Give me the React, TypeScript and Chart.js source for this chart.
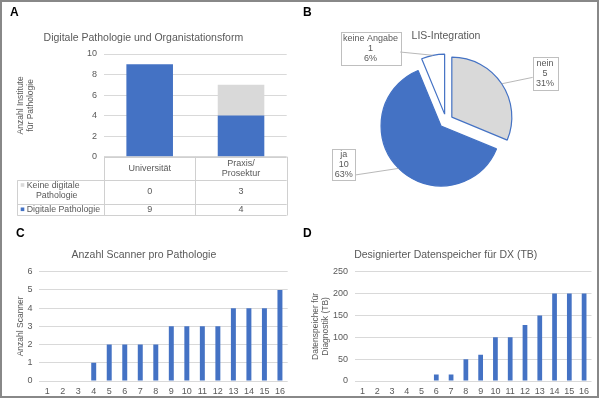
import React, { useEffect, useRef } from "react";
import { Chart, registerables } from "chart.js";

Chart.register(...registerables);

// ---------- DATA ----------
const A_TITLE = "Digitale Pathologie und Organistationsform";
const A_CATEGORIES = [["Universität"], ["Praxis/", "Prosektur"]];
const A_SERIES_DIGITAL = "Digitale Pathologie";
const A_SERIES_NONDIGITAL = "Keine digitale Pathologie";
const A_ROW_LINES_DIGITAL = ["Digitale Pathologie"];
const A_ROW_LINES_NONDIGITAL = ["Keine digitale", "Pathologie"];
const A_DIGITAL = [9, 4];
const A_NONDIGITAL = [0, 3];
const A_Y_TITLE = ["Anzahl Institute", "für Pathologie"];

const B_TITLE = "LIS-Integration";
const B_LABELS = ["nein", "ja", "keine Angabe"];
const B_VALUES = [5, 10, 1];

const C_TITLE = "Anzahl Scanner pro Pathologie";
const C_Y_TITLE = "Anzahl Scanner";
const C_LABELS = ["1", "2", "3", "4", "5", "6", "7", "8", "9", "10", "11", "12", "13", "14", "15", "16"];
const C_VALUES = [0, 0, 0, 1, 2, 2, 2, 2, 3, 3, 3, 3, 4, 4, 4, 5];

const D_TITLE = "Designierter Datenspeicher für DX (TB)";
const D_Y_TITLE = ["Datenspeicher für", "Diagnostik (TB)"];
const D_LABELS = ["1", "2", "3", "4", "5", "6", "7", "8", "9", "10", "11", "12", "13", "14", "15", "16"];
const D_VALUES = [0, 0, 0, 0, 0, 15, 15, 50, 60, 100, 100, 128, 150, 200, 200, 200];

// ---------- STYLE ----------
const FONT = "'Liberation Sans', Arial, sans-serif";
const TEXT = "#595959";
const GRID = "#D9D9D9";
const BLUE = "#4472C4";
const GREY = "#D9D9D9";
const TABLE_LINE = "#D0D0D0";

Chart.defaults.font.family = FONT;

const titleFont = { family: FONT, size: 10.5, weight: "normal" as const, lineHeight: 1.2 };
const tickFont = { family: FONT, size: 9, lineHeight: 1.2 };
const axisTitleFont = { family: FONT, size: 8.5, weight: "normal" as const, lineHeight: 1.2 };

const crisp = (v: number) => Math.round(v) + 0.5;

// ---------- PLUGINS ----------
const tablePlugin = {
  id: "dataTable",
  afterDraw(chart: any) {
    const { ctx, chartArea: ca, scales } = chart;
    const x = scales.x;
    const n = A_CATEGORIES.length;
    const colW = (ca.right - ca.left) / n;
    const yTop = ca.bottom;
    const yH = yTop + 23.3;
    const yR1 = yTop + 47.3;
    const yR2 = yTop + 58.3;
    const labelLeft = 17.3;
    ctx.save();
    ctx.strokeStyle = TABLE_LINE;
    ctx.lineWidth = 1;
    const line = (x1: number, y1: number, x2: number, y2: number) => {
      ctx.beginPath();
      ctx.moveTo(x1, y1);
      ctx.lineTo(x2, y2);
      ctx.stroke();
    };
    line(ca.left, crisp(yTop), ca.right, crisp(yTop));
    [yH, yR1, yR2].forEach((yy) => line(labelLeft, crisp(yy), ca.right, crisp(yy)));
    for (let i = 0; i <= n; i++) {
      const xx = crisp(ca.left + i * colW);
      line(xx, yTop, xx, crisp(yR2));
    }
    line(crisp(labelLeft), crisp(yH), crisp(labelLeft), crisp(yR2));

    ctx.fillStyle = TEXT;
    ctx.font = `9px ${FONT}`;
    ctx.textAlign = "center";
    ctx.textBaseline = "middle";
    // header
    A_CATEGORIES.forEach((lines, i) => {
      const cx = x.getPixelForValue(i);
      const cy = (yTop + yH) / 2;
      const lh = 10;
      lines.forEach((t, j) => {
        ctx.fillText(t, cx, cy + (j - (lines.length - 1) / 2) * lh);
      });
    });
    // rows
    const rows = [
      { lines: A_ROW_LINES_NONDIGITAL, color: GREY, values: A_NONDIGITAL, top: yH, bottom: yR1 },
      { lines: A_ROW_LINES_DIGITAL, color: BLUE, values: A_DIGITAL, top: yR1, bottom: yR2 },
    ];
    rows.forEach((r) => {
      const cy = (r.top + r.bottom) / 2;
      r.values.forEach((v, i) => {
        ctx.fillStyle = TEXT;
        ctx.textAlign = "center";
        ctx.font = `9px ${FONT}`;
        ctx.fillText(String(v), x.getPixelForValue(i), cy);
      });
      ctx.font = `8.8px ${FONT}`;
      const firstY = r.lines.length > 1 ? r.top + 5.2 : cy;
      ctx.fillStyle = r.color;
      ctx.fillRect(labelLeft + 3.4, firstY - 2, 3.6, 3.6);
      ctx.fillStyle = TEXT;
      ctx.textAlign = "left";
      ctx.fillText(r.lines[0], labelLeft + 9.4, firstY);
      if (r.lines.length > 1) {
        ctx.textAlign = "center";
        ctx.fillText(r.lines[1], 56.7, r.top + 16);
      }
    });
    ctx.restore();
  },
};

const EXPLODE = 7;
const explodePlugin = {
  id: "explode",
  afterDatasetsUpdate(chart: any) {
    const meta = chart.getDatasetMeta(0);
    meta.data.forEach((el: any) => {
      const mid = (el.startAngle + el.endAngle) / 2;
      el.x += Math.cos(mid) * EXPLODE;
      el.y += Math.sin(mid) * EXPLODE;
    });
  },
};

// box positions (layout only), indexed like B_LABELS
const CALLOUT_BOXES = [
  { x: 232.7, y: 57.3, w: 24.8, h: 32.7, ax: 233, ay: 77.3 },
  { x: 32.3, y: 149, w: 22.8, h: 30.5, ax: 55, ay: 175 },
  { x: 40.7, y: 32.3, w: 59.5, h: 32.7, ax: 100, ay: 52 },
];

const calloutPlugin = {
  id: "callouts",
  afterDraw(chart: any) {
    const { ctx } = chart;
    const meta = chart.getDatasetMeta(0);
    const total = B_VALUES.reduce((a, b) => a + b, 0);
    ctx.save();
    meta.data.forEach((el: any, i: number) => {
      const b = CALLOUT_BOXES[i];
      const mid = (el.startAngle + el.endAngle) / 2;
      const ex = el.x + Math.cos(mid) * el.outerRadius;
      const ey = el.y + Math.sin(mid) * el.outerRadius;
      ctx.strokeStyle = "#A6A6A6";
      ctx.lineWidth = 0.8;
      ctx.beginPath();
      ctx.moveTo(b.ax, b.ay);
      ctx.lineTo(ex, ey);
      ctx.stroke();
      ctx.fillStyle = "#FFFFFF";
      ctx.fillRect(b.x, b.y, b.w, b.h);
      ctx.strokeStyle = "#BFBFBF";
      ctx.lineWidth = 1;
      ctx.strokeRect(crisp(b.x), crisp(b.y), Math.round(b.w), Math.round(b.h));
      const pct = Math.round((B_VALUES[i] / total) * 100) + "%";
      const lines = [B_LABELS[i], String(B_VALUES[i]), pct];
      ctx.fillStyle = TEXT;
      ctx.font = `9px ${FONT}`;
      ctx.textAlign = "center";
      ctx.textBaseline = "middle";
      const cx = b.x + b.w / 2;
      const cy = b.y + b.h / 2;
      lines.forEach((t, j) => ctx.fillText(t, cx, cy + (j - 1) * 10.2));
    });
    ctx.restore();
  },
};

// ---------- CONFIGS ----------
function configA(): any {
  return {
    type: "bar",
    data: {
      labels: A_CATEGORIES.map((c) => c.join(" ")),
      datasets: [
        { label: A_SERIES_DIGITAL, data: A_DIGITAL, backgroundColor: BLUE, barPercentage: 0.51, categoryPercentage: 1 },
        { label: A_SERIES_NONDIGITAL, data: A_NONDIGITAL, backgroundColor: GREY, barPercentage: 0.51, categoryPercentage: 1 },
      ],
    },
    options: {
      responsive: false,
      animation: false,
      devicePixelRatio: 1,
      layout: { padding: { left: 0, right: 13.3, top: 0, bottom: 63.3 } },
      plugins: {
        legend: { display: false },
        tooltip: { enabled: false },
        title: { display: true, text: A_TITLE, color: TEXT, font: titleFont, padding: { top: 31.5, bottom: 9.9 } },
      },
      scales: {
        x: {
          stacked: true,
          grid: { display: false, drawTicks: false },
          border: { display: false },
          ticks: { display: false },
          afterFit: (s: any) => { s.height = 0; },
        },
        y: {
          stacked: true,
          min: 0,
          max: 10,
          ticks: { stepSize: 2, color: TEXT, font: tickFont, padding: 7 },
          grid: { color: GRID, drawTicks: false },
          border: { display: false },
          title: { display: true, text: A_Y_TITLE, color: TEXT, font: axisTitleFont, padding: { top: 15.4, bottom: 0 } },
          afterFit: (s: any) => { s.width = 104; },
        },
      },
    },
    plugins: [tablePlugin],
  };
}

function configB(): any {
  return {
    type: "pie",
    data: {
      labels: B_LABELS,
      datasets: [
        {
          data: B_VALUES,
          backgroundColor: [GREY, BLUE, "#FFFFFF"],
          borderColor: [BLUE, BLUE, BLUE],
          borderWidth: 1.2,
          radius: 60,
        },
      ],
    },
    options: {
      responsive: false,
      animation: false,
      devicePixelRatio: 1,
      layout: { padding: { left: 0, right: 8, top: 0, bottom: 20 } },
      plugins: {
        legend: { display: false },
        tooltip: { enabled: false },
        title: { display: true, text: B_TITLE, color: TEXT, font: titleFont, padding: { top: 29.4, bottom: 0 } },
      },
    },
    plugins: [explodePlugin, calloutPlugin],
  };
}

function configBars(
  labels: string[], values: number[], title: string, yTitle: string | string[],
  max: number, step: number, yWidth: number, rightPad: number, titlePadTop: number
): any {
  return {
    type: "bar",
    data: {
      labels,
      datasets: [{ data: values, backgroundColor: BLUE, barPercentage: 0.32, categoryPercentage: 1 }],
    },
    options: {
      responsive: false,
      animation: false,
      devicePixelRatio: 1,
      layout: { padding: { left: 0, right: rightPad, top: 0, bottom: 0 } },
      plugins: {
        legend: { display: false },
        tooltip: { enabled: false },
        title: { display: true, text: title, color: TEXT, font: titleFont, padding: { top: 28.7, bottom: 10.4 } },
      },
      scales: {
        x: {
          grid: { display: false, drawTicks: false },
          border: { display: false },
          ticks: { color: TEXT, font: tickFont, padding: 5, maxRotation: 0, autoSkip: false },
          afterFit: (s: any) => { s.height = 18; },
        },
        y: {
          min: 0,
          max,
          ticks: { stepSize: step, color: TEXT, font: tickFont, padding: 7 },
          grid: { color: GRID, drawTicks: false },
          border: { display: false },
          title: { display: true, text: yTitle, color: TEXT, font: axisTitleFont, padding: { top: titlePadTop, bottom: 0 } },
          afterFit: (s: any) => { s.width = yWidth; },
        },
      },
    },
  };
}

// ---------- COMPONENTS ----------
function ChartCanvas(props: { make: () => any; left: number; top: number; width: number; height: number }) {
  const ref = useRef<HTMLCanvasElement>(null);
  useEffect(() => {
    const chart = new Chart(ref.current as HTMLCanvasElement, props.make());
    return () => chart.destroy();
  }, []);
  return (
    <canvas
      ref={ref}
      width={props.width}
      height={props.height}
      style={{ position: "absolute", left: props.left, top: props.top, width: props.width, height: props.height }}
    />
  );
}

const letterStyle = (left: number, top: number): React.CSSProperties => ({
  position: "absolute",
  left,
  top,
  fontFamily: FONT,
  fontWeight: "bold",
  fontSize: 12,
  lineHeight: "14px",
  color: "#000",
});

export default function App() {
  return (
    <div style={{ position: "absolute", left: 0, top: 0, width: 600, height: 399, background: "#fff", overflow: "hidden" }}>
      <ChartCanvas make={configA} left={0} top={0} width={300} height={220} />
      <ChartCanvas make={configB} left={300} top={0} width={300} height={220} />
      <ChartCanvas
        make={() => configBars(C_LABELS, C_VALUES, C_TITLE, C_Y_TITLE, 6, 1, 39.4, 12.3, 15.4)}
        left={0} top={220} width={300} height={179}
      />
      <ChartCanvas
        make={() => configBars(D_LABELS, D_VALUES, D_TITLE, D_Y_TITLE, 250, 50, 55, 8.5, 10.4)}
        left={300} top={220} width={300} height={179}
      />
      <div style={letterStyle(10, 5)}>A</div>
      <div style={letterStyle(303, 5)}>B</div>
      <div style={letterStyle(16, 225.5)}>C</div>
      <div style={letterStyle(303, 225.5)}>D</div>
      <div
        style={{
          position: "absolute", left: 0, top: 0, width: 599, height: 398,
          border: "2px solid #888", boxSizing: "border-box", pointerEvents: "none",
        }}
      />
    </div>
  );
}
